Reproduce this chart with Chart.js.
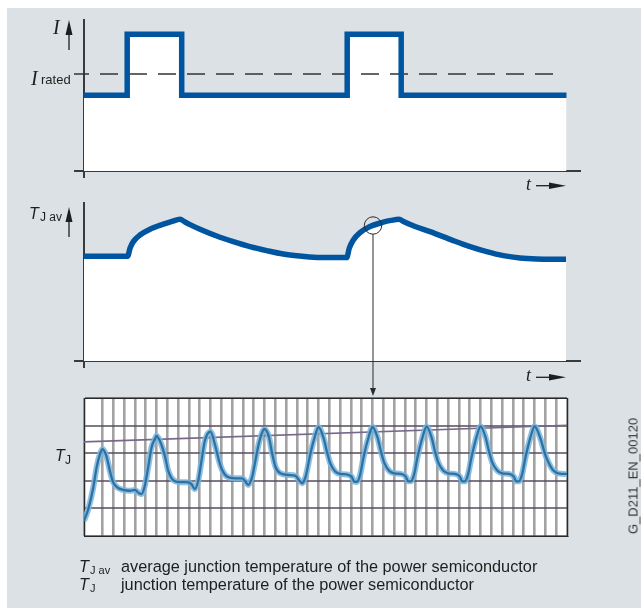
<!DOCTYPE html>
<html>
<head>
<meta charset="utf-8">
<script src="https://cdn.jsdelivr.net/npm/chart.js@4.4.1/dist/chart.umd.min.js"></script>
<style>
  html, body { margin: 0; padding: 0; background: #fff; }
  body { width: 641px; height: 608px; position: relative; overflow: hidden;
         font-family: "Liberation Sans", Arial, sans-serif; color: #1e1e1e; }
  #panel { position: absolute; left: 7px; top: 8px; right: 0; bottom: 0; background: #dce1e5; }
  canvas { position: absolute; left: 0; }
  .lbl { position: absolute; white-space: nowrap; line-height: 1; }
  .serif { font-family: "Liberation Serif", "Times New Roman", serif; font-style: italic; }
  .it { font-style: italic; }
  #code { position: absolute; left: 633px; top: 476px; font-size: 13px; color: #333;
          white-space: nowrap; line-height: 1; transform: translate(-50%, -50%) rotate(-90deg); }
</style>
</head>
<body>
<div id="panel"></div>
<canvas id="currentChart" width="641" height="200" style="top:0"></canvas>
<canvas id="avgChart" width="641" height="212" style="top:190px"></canvas>
<canvas id="scopeChart" width="641" height="160" style="top:390px"></canvas>

<div class="lbl serif" style="left:53px; top:17px; font-size:20px">I</div>
<div class="lbl serif" style="left:31px; top:68px; font-size:20px">I</div>
<div class="lbl" style="left:41px; top:73px; font-size:13px">rated</div>
<div class="lbl serif" style="left:526px; top:175px; font-size:18px">t</div>

<div class="lbl it" style="left:29px; top:206px; font-size:16px">T</div>
<div class="lbl" style="left:40px; top:211px; font-size:12px">J av</div>
<div class="lbl serif" style="left:526px; top:366px; font-size:18px">t</div>

<div class="lbl it" style="left:55px; top:448px; font-size:16px">T</div>
<div class="lbl" style="left:65px; top:454px; font-size:12px">J</div>

<div class="lbl it" style="left:79px; top:558px; font-size:16.3px">T</div>
<div class="lbl" style="left:90px; top:565px; font-size:11px">J av</div>
<div class="lbl" style="left:121px; top:558px; font-size:16.3px">average junction temperature of the power semiconductor</div>
<div class="lbl it" style="left:79px; top:576px; font-size:16.3px">T</div>
<div class="lbl" style="left:90px; top:583px; font-size:11px">J</div>
<div class="lbl" style="left:121px; top:576px; font-size:16.3px">junction temperature of the power semiconductor</div>

<div id="code">G_D211_EN_00120</div>

<script>
// current I (in % of I rated) over time
var currentT = [0, 8.64, 19.54, 52.64, 63.44, 96.5];
var currentI = [78, 141, 78, 141, 78, 78];
var ratedT = [-2, 94.2];
var ratedI = [100, 100];

// average junction temperature
var avgT = [0, 8.74, 9.2, 9.86, 11.2, 13.2, 15.86, 17.6, 19.2, 20.2, 21.2, 23.2, 26.54, 29.86, 33.2, 36.54, 39.86, 43.2, 47.2,
    52.54, 53.06, 53.86, 55.2, 57.2, 59.86, 61.4, 63, 64, 65.86, 69.2, 73.86, 77.2, 80.54, 83.86, 87.2, 90.54, 93.86, 96.4];
var avgTemp = [52.4, 52.4, 56.4, 59.7, 63, 65.9, 68.4, 69.8, 70.9, 69.5, 68.2, 65.9, 62.5, 59.7, 57.2, 55.2, 53.5, 52.5, 51.7,
    51.7, 56.4, 60.5, 64.2, 67.2, 69.4, 70.3, 70.9, 69.6, 67.6, 64.7, 60.2, 57.2, 54.7, 52.7, 51.5, 51, 50.9, 50.9];
var zoomPoint = { t: 57.8, v: 67.75 };

// oscilloscope trace (grid divisions)
var scopeX = [
    -0.71, -0.31, 0.15, 0.46, 0.77, 1.0,
    1.35, 1.68, 1.99, 2.45, 2.91, 3.53, 3.99, 4.39, 4.61, 4.92, 5.23, 5.54, 5.85, 6.0,
    6.31, 6.77, 7.08, 7.54, 8.16, 8.78, 9.24, 9.55, 9.86, 10.17, 10.48, 11.0,
    11.46, 11.77, 12.08, 12.54, 13.31, 13.93, 14.24, 14.49, 14.86, 15.17, 15.48, 16.0,
    16.4, 16.7, 17.01, 17.47, 18.25, 18.87, 19.18, 19.49, 19.8, 20.26, 20.57, 21.0,
    21.46, 21.77, 22.08, 22.54, 23.0, 23.62, 24.08, 24.3, 24.55, 24.85, 25.16, 25.62, 26.0,
    26.46, 26.77, 27.08, 27.54, 28.0, 28.62, 29.08, 29.3, 29.55, 29.85, 30.16, 30.62, 31.0,
    31.46, 31.77, 32.08, 32.54, 33.0, 33.62, 34.08, 34.3, 34.55, 34.85, 35.16, 35.62, 36.0,
    36.46, 36.77, 37.08, 37.54, 38.0, 38.62, 39.08, 39.3, 39.55, 39.85, 40.16, 40.62, 41.0,
    41.5, 41.97, 42.28, 42.74, 43.2, 43.82, 44.0
];
var scopeY = [
    0.55, 0.98, 1.76, 2.49, 2.97, 3.15,
    2.91, 2.37, 1.95, 1.74, 1.67, 1.64, 1.67, 1.55, 1.52, 1.82, 2.49, 3.21, 3.51, 3.63,
    3.45, 2.91, 2.37, 2.03, 1.95, 1.95, 1.88, 1.70, 2.0, 2.73, 3.45, 3.78,
    3.24, 2.75, 2.39, 2.15, 2.09, 2.09, 1.97, 1.85, 2.15, 2.75, 3.36, 3.87,
    3.6, 3.0, 2.51, 2.27, 2.21, 2.18, 2.03, 1.91, 2.15, 3.0, 3.48, 3.94,
    3.56, 3.06, 2.64, 2.34, 2.25, 2.23, 2.14, 1.97, 1.96, 2.22, 2.84, 3.56, 3.95,
    3.57, 3.07, 2.66, 2.36, 2.27, 2.25, 2.15, 1.98, 1.98, 2.24, 2.85, 3.57, 3.96,
    3.58, 3.08, 2.67, 2.37, 2.27, 2.25, 2.15, 1.98, 1.98, 2.25, 2.85, 3.58, 3.97,
    3.58, 3.08, 2.67, 2.37, 2.27, 2.25, 2.15, 1.98, 1.98, 2.25, 2.85, 3.58, 3.97,
    3.58, 2.97, 2.67, 2.37, 2.27, 2.25, 2.25
];
var driftX = [-0.71, 44.0];
var driftY = [3.41, 4.01];

var BLUE = '#0055a0';
var INK = '#1e1e1e';
var AXIS = '#3a3a3a';

function pts(xs, ys) {
    return xs.map(function (x, i) { return { x: x, y: ys[i] }; });
}

function arrowHead(ctx, x, y, dx, dy, len, half) {
    ctx.beginPath();
    ctx.moveTo(x, y);
    ctx.lineTo(x - dx * len - dy * half, y - dy * len + dx * half);
    ctx.lineTo(x - dx * len + dy * half, y - dy * len - dx * half);
    ctx.closePath();
    ctx.fill();
}

var axisArrows = {
    id: 'axisArrows',
    afterDraw: function (chart, args, o) {
        var ctx = chart.ctx, a = chart.chartArea;
        ctx.save();
        ctx.strokeStyle = INK;
        ctx.fillStyle = INK;
        ctx.lineWidth = 1.3;

        var ax = a.left - 15, tip = a.top + o.yTip;
        ctx.beginPath();
        ctx.moveTo(ax, tip + 30);
        ctx.lineTo(ax, tip + 12);
        ctx.stroke();
        arrowHead(ctx, ax, tip, 0, -1, 15, 3.5);

        var ty = a.bottom + o.tY;
        ctx.beginPath();
        ctx.moveTo(a.right - 44, ty);
        ctx.lineTo(a.right - 28, ty);
        ctx.stroke();
        arrowHead(ctx, a.right - 14, ty, 1, 0, 17, 3.2);

        if (o.zoom) {
            var cx = chart.scales.x.getPixelForValue(o.zoom.t);
            var cy = chart.scales.y.getPixelForValue(o.zoom.v);
            var r = 8.7;
            ctx.lineWidth = 1;
            ctx.strokeStyle = '#2a2a2a';
            ctx.beginPath();
            ctx.arc(cx, cy, r, 0, Math.PI * 2);
            ctx.stroke();
            var endY = a.bottom + 35;
            ctx.beginPath();
            ctx.moveTo(cx, cy + r);
            ctx.lineTo(cx, endY - 6);
            ctx.stroke();
            ctx.fillStyle = '#2a2a2a';
            arrowHead(ctx, cx, endY, 0, 1, 8, 3);
        }
        ctx.restore();
    }
};

var plotBg = {
    id: 'plotBg',
    beforeDraw: function (chart) {
        var a = chart.chartArea;
        chart.ctx.save();
        chart.ctx.fillStyle = '#ffffff';
        chart.ctx.fillRect(a.left, a.top, a.right - a.left, a.bottom - a.top);
        chart.ctx.restore();
    }
};

function onlyMin(scale) {
    scale.ticks = [{ value: scale.min }];
}

function axisScale(min, max, tickLen) {
    return {
        type: 'linear', min: min, max: max,
        grid: { display: true, drawOnChartArea: false, drawTicks: true, tickLength: tickLen, color: AXIS, lineWidth: 2 },
        border: { display: true, color: AXIS, width: 2 },
        ticks: { display: false },
        afterBuildTicks: onlyMin
    };
}

var common = {
    responsive: false,
    animation: false,
    devicePixelRatio: 1,
    events: [],
    plugins: { legend: { display: false }, tooltip: { enabled: false }, filler: { drawTime: 'beforeDatasetsDraw' } }
};

new Chart(document.getElementById('currentChart'), {
    type: 'line',
    data: {
        datasets: [{
            data: pts(currentT, currentI),
            stepped: true,
            borderColor: BLUE,
            borderWidth: 5.5,
            borderJoinStyle: 'miter',
            borderCapStyle: 'butt',
            backgroundColor: '#ffffff',
            fill: 'start',
            pointRadius: 0
        }, {
            data: pts(ratedT, ratedI),
            borderColor: '#333333',
            borderWidth: 1.5,
            borderDash: [18, 11],
            borderDashOffset: 3,
            fill: false,
            clip: false,
            pointRadius: 0
        }]
    },
    options: Object.assign({}, common, {
        layout: { padding: { left: 74, top: 20, right: 61, bottom: 22 } },
        scales: { x: axisScale(0, 99.2, 7), y: axisScale(0, 155.7, 10) },
        plugins: Object.assign({}, common.plugins, { axisArrows: { yTip: 0, tY: 14.7 } })
    }),
    plugins: [axisArrows]
});

new Chart(document.getElementById('avgChart'), {
    type: 'line',
    data: {
        datasets: [{
            data: pts(avgT, avgTemp),
            cubicInterpolationMode: 'monotone',
            borderColor: BLUE,
            borderWidth: 5.5,
            borderCapStyle: 'butt',
            backgroundColor: '#ffffff',
            fill: 'start',
            pointRadius: 0
        }]
    },
    options: Object.assign({}, common, {
        layout: { padding: { left: 74, top: 13, right: 61, bottom: 34 } },
        scales: { x: axisScale(0, 99.2, 7), y: axisScale(0, 79, 10) },
        plugins: Object.assign({}, common.plugins, { axisArrows: { yTip: 4, tY: 16.3, zoom: zoomPoint } })
    }),
    plugins: [axisArrows]
});

new Chart(document.getElementById('scopeChart'), {
    type: 'line',
    data: {
        datasets: [{
            data: pts(scopeX, scopeY),
            cubicInterpolationMode: 'monotone',
            borderColor: '#30709f',
            borderWidth: 2.3,
            fill: false,
            pointRadius: 0
        }, {
            data: pts(scopeX, scopeY),
            cubicInterpolationMode: 'monotone',
            borderColor: 'rgba(120,182,226,0.85)',
            borderWidth: 6,
            fill: false,
            pointRadius: 0
        }, {
            data: pts(driftX, driftY),
            borderColor: '#76688a',
            borderWidth: 1.6,
            fill: false,
            pointRadius: 0
        }]
    },
    options: Object.assign({}, common, {
        layout: { padding: { left: 84, top: 8, right: 74, bottom: 14 } },
        scales: {
            x: {
                type: 'linear', min: -0.71, max: 44.0,
                ticks: { display: false, stepSize: 1 },
                grid: { drawTicks: false, color: 'rgba(100,100,100,0.6)', lineWidth: 2.6 },
                border: { display: true, color: '#2a2a2a', width: 1 }
            },
            y: {
                type: 'linear', min: 0, max: 5,
                ticks: { display: false, stepSize: 1 },
                grid: { drawTicks: false, color: 'rgba(85,75,92,0.75)', lineWidth: 2 },
                border: { display: true, color: '#2a2a2a', width: 1 }
            },
            x2: {
                type: 'linear', position: 'top', min: 0, max: 1,
                ticks: { display: false }, grid: { display: false, drawTicks: false },
                border: { display: true, color: '#2a2a2a', width: 1 }
            },
            y2: {
                type: 'linear', position: 'right', min: 0, max: 1,
                ticks: { display: false }, grid: { display: false, drawTicks: false },
                border: { display: true, color: '#2a2a2a', width: 1 }
            }
        }
    }),
    plugins: [plotBg]
});
</script>
</body>
</html>
